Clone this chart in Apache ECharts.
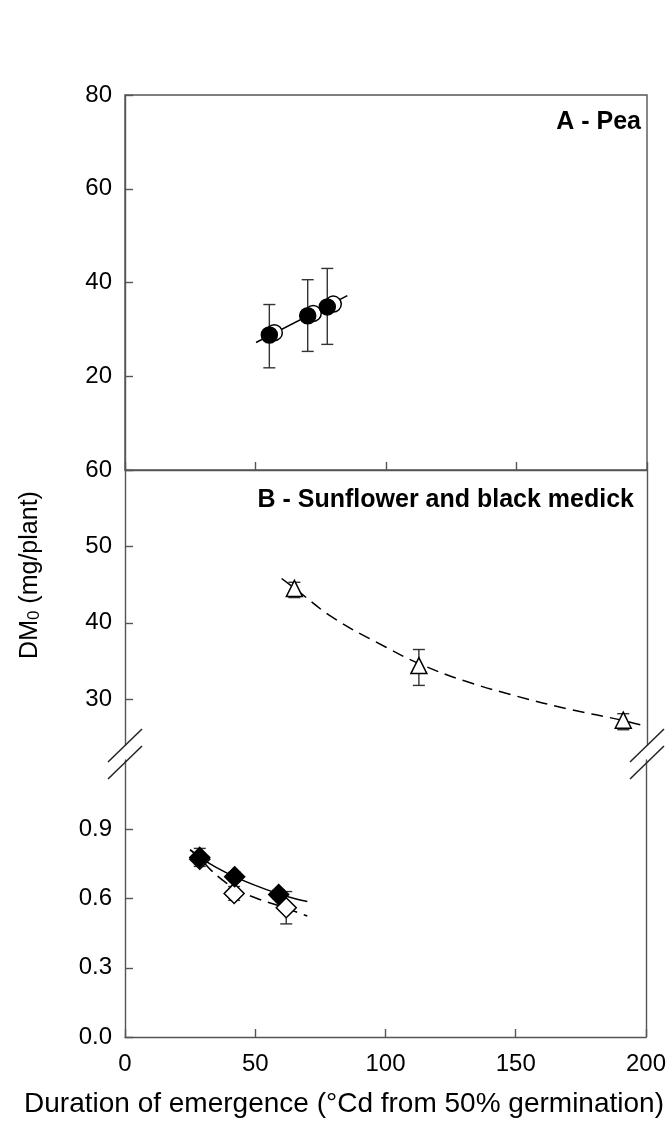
<!DOCTYPE html>
<html>
<head>
<meta charset="utf-8">
<script src="https://cdn.jsdelivr.net/npm/echarts@6/dist/echarts.min.js"></script>
<style>
html,body{margin:0;padding:0;background:#fff;}
#chart{width:669px;height:1126px;}
</style>
</head>
<body>
<div id="chart"></div>
<script>
// ---------- data ----------
const xTickLabels = [0, 50, 100, 150, 200];
const yTicksA = [20, 40, 60, 80];
const yTicksBUpper = [30, 40, 50, 60];
const yTicksBLower = [0, 0.3, 0.6, 0.9];

// Panel A - Pea
const peaFilledX = [55.3, 70.0, 77.5];
const peaFilledY = [28.8, 32.9, 34.8];
const peaErrLow = [21.8, 25.3, 26.8];
const peaErrHigh = [35.3, 40.6, 43.0];
const peaOpenX = [57.2, 72.1, 79.8];
const peaOpenY = [29.3, 33.4, 35.4];
const peaFitX = [50.2, 85.2];
const peaFitY = [27.2, 37.2];

// Panel B upper - Sunflower
const sunX = [64.9, 112.6, 190.9];
const sunY = [44.5, 34.4, 27.25];
const sunErrLow = [43.3, 31.8, 26.0];
const sunErrHigh = [45.3, 36.5, 28.1];
const sunFitX = [60, 65, 80, 100, 113, 130, 150, 170, 191, 200];
const sunFitY = [45.8, 44.5, 40.6, 36.8, 34.6, 32.4, 30.4, 28.7, 27.2, 26.4];

// Panel B lower - Black medick
const medFilledX = [28.7, 42.1, 59.0];
const medFilledY = [0.778, 0.694, 0.617];
const medFilledErr = [0.039, 0.02, 0.02];
const medOpenX = [28.7, 41.9, 61.9];
const medOpenY = [0.770, 0.622, 0.560];
const medOpenErr = [0.02, 0.03, 0.07];
const medFilledFitX = [25, 30, 35, 42, 50, 59, 65, 70];
const medFilledFitY = [0.812, 0.770, 0.735, 0.695, 0.657, 0.620, 0.600, 0.587];
const medOpenFitX = [25, 29, 33, 38, 42, 50, 60, 70];
const medOpenFitY = [0.810, 0.772, 0.723, 0.675, 0.643, 0.603, 0.565, 0.524];

// ---------- helpers ----------
const FONT = '"Liberation Sans", Arial, Helvetica, sans-serif';
const AX = '#555';
const zip = (xs, ys) => xs.map((x, i) => [x, ys[i]]);

function errSeries(xIdx, yIdx, xs, lo, hi, z) {
  return {
    type: 'custom', xAxisIndex: xIdx, yAxisIndex: yIdx, z: z || 3,
    silent: true,
    data: xs.map((x, i) => [x, lo[i], hi[i]]),
    renderItem: function (params, api) {
      const x = api.value(0);
      const p1 = api.coord([x, api.value(1)]);
      const p2 = api.coord([x, api.value(2)]);
      const w = 6;
      const st = { stroke: '#333', lineWidth: 1.4 };
      return {
        type: 'group',
        children: [
          { type: 'line', shape: { x1: p1[0], y1: p1[1], x2: p2[0], y2: p2[1] }, style: st },
          { type: 'line', shape: { x1: p1[0] - w, y1: p1[1], x2: p1[0] + w, y2: p1[1] }, style: st },
          { type: 'line', shape: { x1: p2[0] - w, y1: p2[1], x2: p2[0] + w, y2: p2[1] }, style: st }
        ]
      };
    }
  };
}

function scatter(xIdx, yIdx, data, symbol, size, filled, z) {
  return {
    type: 'scatter', xAxisIndex: xIdx, yAxisIndex: yIdx, z: z,
    symbol: symbol, symbolSize: size, data: data, silent: true,
    itemStyle: { color: filled ? '#000' : '#fff', borderColor: '#000', borderWidth: 1.5, opacity: 1 }
  };
}

function fitLine(xIdx, yIdx, data, dashed) {
  return {
    type: 'line', xAxisIndex: xIdx, yAxisIndex: yIdx, z: 2,
    data: data, smooth: 0.4, showSymbol: false, symbol: 'none', silent: true,
    lineStyle: { color: '#000', width: 1.5, type: dashed ? [12, 7] : 'solid' }
  };
}

const lineStyle = { color: AX, width: 1.4 };
const tickStyle = { color: AX, width: 1.4 };
const labelStyle = { color: '#000', fontSize: 24, fontFamily: FONT };

const L = 125, W = 522;
const grids = [
  { left: L, top: 95, width: W, height: 375, show: true, borderColor: AX, borderWidth: 1.4, backgroundColor: 'transparent' },
  { left: L, top: 470, width: W, height: 275 },
  { left: L, top: 760, width: W, height: 277 }
];

function xAx(g, showLine, showLabel) {
  return {
    type: 'value', gridIndex: g, min: 0, max: 200, interval: 50,
    axisLine: { show: showLine, lineStyle: lineStyle },
    axisTick: { show: showLine, inside: true, length: 8, lineStyle: tickStyle },
    axisLabel: { show: showLabel, margin: 15, ...labelStyle,
      customValues: xTickLabels },
    splitLine: { show: false }
  };
}

function yAx(g, min, max, labels, fmt) {
  return {
    type: 'value', gridIndex: g, min: min, max: max,
    axisLine: { show: true, onZero: false, lineStyle: lineStyle },
    axisTick: { show: true, inside: true, length: 8, lineStyle: tickStyle,
      customValues: labels },
    axisLabel: { show: true, margin: 13, ...labelStyle, customValues: labels,
      formatter: fmt || (v => String(v)) },
    splitLine: { show: false }
  };
}

function yRight(g, min, max) {
  return {
    type: 'value', gridIndex: g, min: min, max: max, position: 'right',
    axisLine: { show: true, onZero: false, lineStyle: lineStyle },
    axisTick: { show: false }, axisLabel: { show: false }, splitLine: { show: false }
  };
}

const chart = echarts.init(document.getElementById('chart'), null, { renderer: 'canvas' });

const breakStyle = { stroke: '#222', lineWidth: 1.5 };
function breakMarks(cx) {
  return [
    { type: 'line', shape: { x1: cx - 17, y1: 762, x2: cx + 17, y2: 729 }, style: breakStyle, z: 10 },
    { type: 'line', shape: { x1: cx - 17, y1: 779, x2: cx + 17, y2: 746 }, style: breakStyle, z: 10 }
  ];
}

const option = {
  animation: false,
  backgroundColor: '#fff',
  grid: grids,
  xAxis: [xAx(0, true, false), xAx(1, false, false), xAx(2, true, true)],
  yAxis: [
    yAx(0, 0, 80, yTicksA),
    yAx(1, 24, 60, yTicksBUpper),
    yAx(2, 0, 1.2, yTicksBLower, v => Number(v).toFixed(1)),
    yRight(1, 24, 60),
    yRight(2, 0, 1.2)
  ],
  series: [
    // Panel A
    fitLine(0, 0, zip(peaFitX, peaFitY), false),
    errSeries(0, 0, peaFilledX, peaErrLow, peaErrHigh, 3),
    scatter(0, 0, zip(peaOpenX, peaOpenY), 'circle', 16, false, 4),
    scatter(0, 0, zip(peaFilledX, peaFilledY), 'circle', 16, true, 5),
    // Panel B upper
    fitLine(1, 1, zip(sunFitX, sunFitY), true),
    errSeries(1, 1, sunX, sunErrLow, sunErrHigh, 3),
    scatter(1, 1, zip(sunX, sunY), 'triangle', 16, false, 4),
    // Panel B lower
    fitLine(2, 2, zip(medFilledFitX, medFilledFitY), false),
    fitLine(2, 2, zip(medOpenFitX, medOpenFitY), true),
    errSeries(2, 2, medOpenX, medOpenX.map((x, i) => medOpenY[i] - medOpenErr[i]), medOpenX.map((x, i) => medOpenY[i] + medOpenErr[i]), 3),
    scatter(2, 2, zip(medOpenX, medOpenY), 'diamond', [20, 20], false, 4),
    errSeries(2, 2, medFilledX, medFilledX.map((x, i) => medFilledY[i] - medFilledErr[i]), medFilledX.map((x, i) => medFilledY[i] + medFilledErr[i]), 4),
    scatter(2, 2, zip(medFilledX, medFilledY), 'diamond', [20, 20], true, 5)
  ],
  graphic: [
    ...breakMarks(125),
    ...breakMarks(647),
    { type: 'text', right: 669 - 641, top: 110, style: { text: 'A - Pea', fill: '#000', font: 'bold 25px ' + FONT } },
    { type: 'text', right: 669 - 634, top: 488, style: { text: 'B - Sunflower and black medick', fill: '#000', font: 'bold 25px ' + FONT } },
    { type: 'text', x: 344, y: 1104, style: { text: 'Duration of emergence (°Cd from 50% germination)', fill: '#000', font: '28px ' + FONT, textAlign: 'center', textVerticalAlign: 'middle' } },
    { type: 'text', x: 30, y: 575, rotation: Math.PI / 2,
      style: { text: '{a|DM}{b|0}{a| (mg/plant)}', fill: '#000', textAlign: 'center', textVerticalAlign: 'middle',
        rich: { a: { fontSize: 25, fontFamily: FONT, fill: '#000' }, b: { fontSize: 17, fontFamily: FONT, fill: '#000', verticalAlign: 'bottom', padding: [9, 0, 0, 0] } } } }
  ]
};
chart.setOption(option);
</script>
</body>
</html>
